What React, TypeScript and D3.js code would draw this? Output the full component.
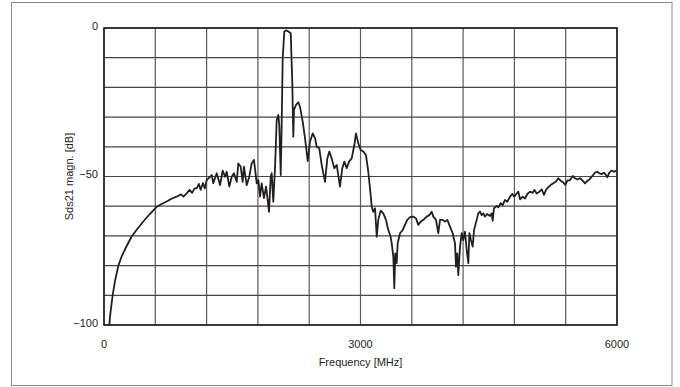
import React from "react";
import * as d3 from "d3";

const freqMHz: number[] = [
  62, 75, 101, 130, 168, 205, 246, 285, 324, 380, 450, 530, 616, 680, 733, 790, 850, 900, 930, 967,
  1000, 1030, 1060, 1084, 1110, 1130, 1158, 1180,
  1201, 1260, 1278, 1318, 1357, 1388, 1415, 1435, 1466, 1494, 1520, 1552, 1571, 1599, 1622, 1637,
  1669, 1699, 1727, 1754, 1786, 1805, 1825, 1844, 1871, 1895, 1910, 1930, 1950, 1961, 1980, 2000,
  2020, 2039, 2050, 2067, 2078, 2090, 2109, 2129, 2156, 2184, 2202, 2214, 2222, 2246, 2273, 2292,
  2324, 2351, 2383, 2409, 2441, 2468, 2488, 2518, 2546, 2585, 2612, 2635, 2663, 2694, 2722, 2760,
  2787, 2811, 2839, 2866, 2897, 2928, 2947, 2974, 3002, 3033, 3064, 3091, 3119,
  3131, 3150, 3170, 3190, 3208, 3236, 3267, 3298, 3325, 3353, 3365, 3384, 3395, 3407, 3423, 3435,
  3462, 3494, 3520, 3547, 3579, 3618, 3649, 3676, 3704, 3735, 3774, 3805, 3833, 3852, 3883, 3910,
  3930, 3961, 3988, 4015, 4047, 4078, 4105, 4117, 4132, 4144, 4164, 4184, 4202, 4222, 4242, 4261,
  4273, 4292, 4312, 4328, 4359, 4378,
  4398, 4417, 4437, 4456, 4483, 4515, 4534, 4546, 4561, 4593, 4612, 4639, 4663, 4690, 4717, 4749,
  4776, 4799, 4827, 4846, 4866, 4897, 4924, 4951, 4983, 5014, 5033, 5061, 5092, 5119, 5146, 5170,
  5197, 5224, 5255, 5287, 5314, 5341, 5372, 5396, 5419, 5450, 5482, 5509, 5536, 5567, 5598, 5626,
  5645, 5676, 5704, 5743, 5770, 5793, 5821, 5848, 5871, 5887, 5910, 5938, 5965, 5996,
];

const s21dB: number[] = [
  -100, -96, -90, -85, -80, -77, -74.5, -72.3, -70.2, -68, -65.5, -62.8, -60.2, -59.2, -58.4, -57.5, -56.8, -56.0, -56.8, -55.7,
  -54.5, -55.5, -54.0, -54.0, -52.5, -54.5, -52.2, -54.0,
  -51.2, -49.5, -52.3, -48.9, -52.9, -48.0, -50.1, -48.4, -53.4, -50.1, -48.9, -51.8, -45.6, -46.7, -51.8, -46.7,
  -52.9, -50.1, -45.6, -44.4, -52.3, -51.2, -56.8, -52.3, -57.3, -53.4, -56.8, -61.9, -50.1, -48.9, -58.5, -47.2,
  -31.0, -29.3, -32.7, -49.5, -32.7, -10.2, -1.2, -0.8, -1.2, -1.8, -18.1, -36.6, -27.6, -25.9, -25.0, -26.5,
  -31.5, -37.1, -44.8, -38.3, -35.5, -37.1, -40.0, -40.5, -46.1, -51.8, -43.9, -41.6, -43.9, -47.2, -46.1, -53.4,
  -47.2, -45.0, -47.2, -45.0, -43.9, -39.4, -35.5, -38.8, -41.1, -41.6, -42.8, -48.4, -56.2,
  -60.2, -61.9, -60.7, -70.3, -64.6, -61.5, -62.4, -64.6, -68.0, -70.3, -72.5, -77.0, -87.6, -75.9, -79.2, -72.5,
  -69.1, -68.0, -66.3, -64.6, -63.7, -63.5, -64.1, -66.3, -65.2, -64.6, -63.5, -63.0, -61.9, -63.5, -64.6, -69.1,
  -64.6, -64.6, -65.2, -64.6, -66.9, -69.1, -72.5, -80.4, -75.9, -83.2, -73.6, -69.1, -71.4, -68.6, -74.7, -79.2,
  -69.1, -71.4, -73.6, -68.0, -64.6, -62.4,
  -61.8, -63.0, -62.4, -63.5, -62.6, -63.3, -62.4, -64.9, -60.7, -59.9, -60.4, -59.0, -59.6, -57.9, -58.5, -56.8,
  -55.9, -56.8, -55.7, -55.1, -57.7, -56.8, -57.4, -55.9, -55.1, -55.5, -54.5, -55.7, -55.1, -54.3, -56.2, -54.5,
  -53.6, -52.9, -52.3, -51.7, -50.6, -51.4, -52.0, -52.8, -51.4, -51.2, -49.8, -50.6, -51.0, -50.6, -51.4, -52.3,
  -51.7, -51.0, -50.1, -48.7, -48.4, -48.9, -49.2, -48.7, -49.5, -50.3, -48.7, -48.0, -48.4, -48.0,
];

const xTickLabels: number[] = [0, 3000, 6000];
const yTickLabels: number[] = [0, -50, -100];

const W = 680;
const H = 387;
const left = 104;
const right = 617;
const top = 28;
const bottom = 325;

export default function App() {
  const x = d3.scaleLinear().domain([0, 6000]).range([left, right]);
  const y = d3.scaleLinear().domain([-100, 0]).range([bottom, top]);
  const data = freqMHz.map((f, i) => [f, s21dB[i]] as [number, number]);
  const line = d3
    .line<[number, number]>()
    .x((d) => x(d[0]))
    .y((d) => y(d[1]));
  const xGrid = d3.range(0, 6001, 600);
  const yGrid = d3.range(-100, 1, 10);
  const font = "'Liberation Sans', Arial, Helvetica, sans-serif";
  const fmt = (v: number) => (v < 0 ? "\u2212" + Math.abs(v) : String(v));
  return (
    <div style={{ position: "fixed", left: 0, top: 0 }}>
      <svg width={W} height={H} style={{ display: "block" }}>
        <rect x={0} y={0} width={W} height={H} fill="#fff" />
        <rect x={11.5} y={2.5} width={660.5} height={383} fill="none" stroke="#8a8a8a" strokeWidth={1} />
        {xGrid.map((v) => (
          <line key={"vx" + v} x1={x(v)} x2={x(v)} y1={top} y2={bottom} stroke="#5e5a5a" strokeWidth={1.2} />
        ))}
        {yGrid.map((v) => (
          <line key={"hy" + v} x1={left} x2={right} y1={y(v)} y2={y(v)} stroke="#4a4545" strokeWidth={1.2} />
        ))}
        <rect x={left} y={top} width={right - left} height={bottom - top} fill="none" stroke="#231f20" strokeWidth={1.6} />
        <path d={line(data) || ""} fill="none" stroke="#231f20" strokeWidth={1.8} strokeLinejoin="round" />
        {yTickLabels.map((v) => (
          <text key={"yl" + v} x={left - 6} y={y(v) - 1} textAnchor="end" dominantBaseline="middle" fontFamily={font} fontSize={11} fill="#231f20">
            {fmt(v)}
          </text>
        ))}
        {xTickLabels.map((v) => (
          <text key={"xl" + v} x={x(v)} y={345} textAnchor="middle" dominantBaseline="middle" fontFamily={font} fontSize={11} fill="#231f20">
            {v}
          </text>
        ))}
        <text x={(left + right) / 2} y={363} textAnchor="middle" dominantBaseline="middle" fontFamily={font} fontSize={11} fill="#231f20">
          Frequency [MHz]
        </text>
        <text
          transform={`translate(70,${(top + bottom) / 2}) rotate(-90)`}
          textAnchor="middle"
          dominantBaseline="middle"
          fontFamily={font}
          fontSize={11}
          fill="#231f20"
        >
          Sds21 magn. [dB]
        </text>
      </svg>
    </div>
  );
}
